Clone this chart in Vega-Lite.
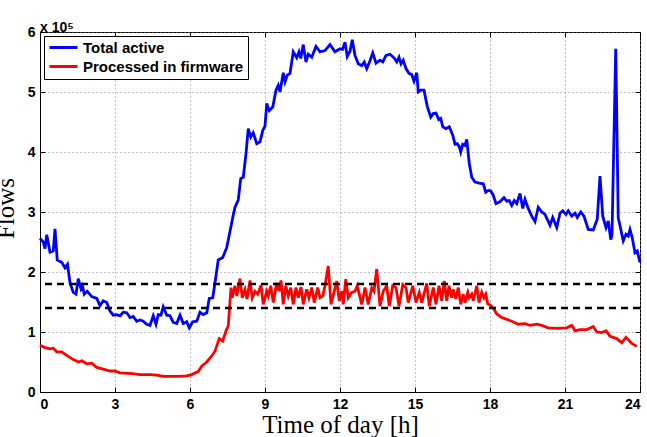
{
  "$schema": "https://vega.github.io/schema/vega-lite/v6.json",
  "width": 600,
  "height": 360,
  "autosize": "none",
  "padding": {"left": 40, "top": 32, "right": 7, "bottom": 45},
  "background": "white",
  "title": {"text": "x 10⁵", "anchor": "start", "frame": "group", "font": "Liberation Sans", "fontSize": 14, "fontWeight": "bold", "color": "black", "offset": 5, "dy": 15},
  "config": {
    "view": {"stroke": "black", "strokeWidth": 1},
    "axis": {
      "domainColor": "black", "tickColor": "black", "tickSize": -5, "labelPadding": 10,
      "labelFont": "Liberation Sans", "labelFontWeight": "bold", "labelFontSize": 14, "labelColor": "black",
      "gridDash": [1, 3], "gridColor": "#888888", "gridWidth": 1,
      "titleFont": "Liberation Serif", "titleFontWeight": "normal", "titleFontSize": 25, "titleColor": "black"
    },
    "legend": {
      "orient": "top-left", "offset": 4, "strokeColor": "black", "fillColor": "white", "padding": 4,
      "symbolType": "M-1,0L1,0", "symbolSize": 784, "symbolStrokeWidth": 3, "clipHeight": 15,
      "labelFont": "Liberation Sans", "labelFontWeight": "bold", "labelFontSize": 15, "labelColor": "black",
      "labelOffset": 4, "labelLimit": 400, "rowPadding": 3, "title": null
    }
  },
  "datasets": {
    "blue": [
      {"h":0,"v":2.56,"s":"Total active"},{"h":0.13,"v":2.5,"s":"Total active"},{"h":0.2,"v":2.39,"s":"Total active"},{"h":0.27,"v":2.62,"s":"Total active"},{"h":0.4,"v":2.33,"s":"Total active"},{"h":0.53,"v":2.35,"s":"Total active"},{"h":0.6,"v":2.72,"s":"Total active"},{"h":0.69,"v":2.2,"s":"Total active"},{"h":0.87,"v":2.16,"s":"Total active"},{"h":1.0,"v":2.07,"s":"Total active"},{"h":1.1,"v":2.13,"s":"Total active"},{"h":1.2,"v":1.82,"s":"Total active"},{"h":1.33,"v":1.66,"s":"Total active"},{"h":1.44,"v":1.63,"s":"Total active"},{"h":1.53,"v":1.89,"s":"Total active"},{"h":1.64,"v":1.72,"s":"Total active"},{"h":1.7,"v":1.77,"s":"Total active"},{"h":1.77,"v":1.63,"s":"Total active"},{"h":1.89,"v":1.68,"s":"Total active"},{"h":2.07,"v":1.59,"s":"Total active"},{"h":2.27,"v":1.56,"s":"Total active"},{"h":2.4,"v":1.44,"s":"Total active"},{"h":2.53,"v":1.52,"s":"Total active"},{"h":2.67,"v":1.49,"s":"Total active"},{"h":2.8,"v":1.35,"s":"Total active"},{"h":2.93,"v":1.28,"s":"Total active"},{"h":3.07,"v":1.29,"s":"Total active"},{"h":3.2,"v":1.27,"s":"Total active"},{"h":3.33,"v":1.33,"s":"Total active"},{"h":3.47,"v":1.32,"s":"Total active"},{"h":3.6,"v":1.24,"s":"Total active"},{"h":3.73,"v":1.26,"s":"Total active"},{"h":3.87,"v":1.18,"s":"Total active"},{"h":4.0,"v":1.2,"s":"Total active"},{"h":4.13,"v":1.18,"s":"Total active"},{"h":4.27,"v":1.13,"s":"Total active"},{"h":4.4,"v":1.11,"s":"Total active"},{"h":4.53,"v":1.27,"s":"Total active"},{"h":4.64,"v":1.13,"s":"Total active"},{"h":4.73,"v":1.29,"s":"Total active"},{"h":4.84,"v":1.28,"s":"Total active"},{"h":4.93,"v":1.42,"s":"Total active"},{"h":5.07,"v":1.28,"s":"Total active"},{"h":5.2,"v":1.27,"s":"Total active"},{"h":5.33,"v":1.16,"s":"Total active"},{"h":5.47,"v":1.14,"s":"Total active"},{"h":5.6,"v":1.28,"s":"Total active"},{"h":5.73,"v":1.14,"s":"Total active"},{"h":5.87,"v":1.17,"s":"Total active"},{"h":5.97,"v":1.07,"s":"Total active"},{"h":6.11,"v":1.17,"s":"Total active"},{"h":6.27,"v":1.18,"s":"Total active"},{"h":6.4,"v":1.33,"s":"Total active"},{"h":6.53,"v":1.29,"s":"Total active"},{"h":6.67,"v":1.32,"s":"Total active"},{"h":6.77,"v":1.56,"s":"Total active"},{"h":6.91,"v":1.57,"s":"Total active"},{"h":7.0,"v":1.82,"s":"Total active"},{"h":7.13,"v":2.2,"s":"Total active"},{"h":7.31,"v":2.24,"s":"Total active"},{"h":7.47,"v":2.41,"s":"Total active"},{"h":7.6,"v":2.68,"s":"Total active"},{"h":7.73,"v":2.95,"s":"Total active"},{"h":7.8,"v":3.08,"s":"Total active"},{"h":7.93,"v":3.2,"s":"Total active"},{"h":8.03,"v":3.56,"s":"Total active"},{"h":8.13,"v":3.58,"s":"Total active"},{"h":8.24,"v":3.97,"s":"Total active"},{"h":8.33,"v":4.39,"s":"Total active"},{"h":8.43,"v":4.25,"s":"Total active"},{"h":8.53,"v":4.32,"s":"Total active"},{"h":8.67,"v":4.14,"s":"Total active"},{"h":8.8,"v":4.17,"s":"Total active"},{"h":8.91,"v":4.36,"s":"Total active"},{"h":9.0,"v":4.43,"s":"Total active"},{"h":9.07,"v":4.81,"s":"Total active"},{"h":9.17,"v":4.69,"s":"Total active"},{"h":9.31,"v":4.75,"s":"Total active"},{"h":9.44,"v":5.03,"s":"Total active"},{"h":9.53,"v":5.11,"s":"Total active"},{"h":9.6,"v":5.0,"s":"Total active"},{"h":9.73,"v":5.32,"s":"Total active"},{"h":9.8,"v":5.17,"s":"Total active"},{"h":9.89,"v":5.28,"s":"Total active"},{"h":10.0,"v":5.31,"s":"Total active"},{"h":10.13,"v":5.67,"s":"Total active"},{"h":10.27,"v":5.57,"s":"Total active"},{"h":10.36,"v":5.67,"s":"Total active"},{"h":10.43,"v":5.56,"s":"Total active"},{"h":10.53,"v":5.79,"s":"Total active"},{"h":10.64,"v":5.5,"s":"Total active"},{"h":10.73,"v":5.63,"s":"Total active"},{"h":10.87,"v":5.58,"s":"Total active"},{"h":11.04,"v":5.76,"s":"Total active"},{"h":11.2,"v":5.67,"s":"Total active"},{"h":11.4,"v":5.69,"s":"Total active"},{"h":11.6,"v":5.79,"s":"Total active"},{"h":11.8,"v":5.67,"s":"Total active"},{"h":12.0,"v":5.72,"s":"Total active"},{"h":12.1,"v":5.71,"s":"Total active"},{"h":12.2,"v":5.83,"s":"Total active"},{"h":12.29,"v":5.59,"s":"Total active"},{"h":12.4,"v":5.68,"s":"Total active"},{"h":12.49,"v":5.87,"s":"Total active"},{"h":12.6,"v":5.61,"s":"Total active"},{"h":12.73,"v":5.47,"s":"Total active"},{"h":12.87,"v":5.44,"s":"Total active"},{"h":12.97,"v":5.5,"s":"Total active"},{"h":13.07,"v":5.39,"s":"Total active"},{"h":13.2,"v":5.52,"s":"Total active"},{"h":13.31,"v":5.65,"s":"Total active"},{"h":13.44,"v":5.48,"s":"Total active"},{"h":13.6,"v":5.53,"s":"Total active"},{"h":13.71,"v":5.5,"s":"Total active"},{"h":13.84,"v":5.61,"s":"Total active"},{"h":14.0,"v":5.63,"s":"Total active"},{"h":14.16,"v":5.57,"s":"Total active"},{"h":14.27,"v":5.5,"s":"Total active"},{"h":14.36,"v":5.58,"s":"Total active"},{"h":14.44,"v":5.47,"s":"Total active"},{"h":14.53,"v":5.53,"s":"Total active"},{"h":14.64,"v":5.39,"s":"Total active"},{"h":14.76,"v":5.31,"s":"Total active"},{"h":14.87,"v":5.29,"s":"Total active"},{"h":14.96,"v":5.18,"s":"Total active"},{"h":15.07,"v":5.32,"s":"Total active"},{"h":15.13,"v":5.0,"s":"Total active"},{"h":15.23,"v":5.03,"s":"Total active"},{"h":15.36,"v":5.03,"s":"Total active"},{"h":15.49,"v":4.76,"s":"Total active"},{"h":15.63,"v":4.58,"s":"Total active"},{"h":15.73,"v":4.64,"s":"Total active"},{"h":15.84,"v":4.65,"s":"Total active"},{"h":15.95,"v":4.54,"s":"Total active"},{"h":16.03,"v":4.56,"s":"Total active"},{"h":16.11,"v":4.42,"s":"Total active"},{"h":16.24,"v":4.39,"s":"Total active"},{"h":16.37,"v":4.42,"s":"Total active"},{"h":16.51,"v":4.28,"s":"Total active"},{"h":16.6,"v":4.13,"s":"Total active"},{"h":16.69,"v":4.14,"s":"Total active"},{"h":16.77,"v":4.09,"s":"Total active"},{"h":16.83,"v":4.0,"s":"Total active"},{"h":16.91,"v":4.13,"s":"Total active"},{"h":17.0,"v":4.11,"s":"Total active"},{"h":17.07,"v":4.21,"s":"Total active"},{"h":17.17,"v":3.81,"s":"Total active"},{"h":17.27,"v":3.58,"s":"Total active"},{"h":17.4,"v":3.5,"s":"Total active"},{"h":17.57,"v":3.48,"s":"Total active"},{"h":17.73,"v":3.47,"s":"Total active"},{"h":17.83,"v":3.33,"s":"Total active"},{"h":17.93,"v":3.36,"s":"Total active"},{"h":18.03,"v":3.35,"s":"Total active"},{"h":18.13,"v":3.28,"s":"Total active"},{"h":18.24,"v":3.14,"s":"Total active"},{"h":18.4,"v":3.17,"s":"Total active"},{"h":18.56,"v":3.24,"s":"Total active"},{"h":18.67,"v":3.18,"s":"Total active"},{"h":18.77,"v":3.19,"s":"Total active"},{"h":18.87,"v":3.11,"s":"Total active"},{"h":18.97,"v":3.19,"s":"Total active"},{"h":19.07,"v":3.14,"s":"Total active"},{"h":19.2,"v":3.31,"s":"Total active"},{"h":19.31,"v":3.06,"s":"Total active"},{"h":19.4,"v":3.21,"s":"Total active"},{"h":19.53,"v":3.06,"s":"Total active"},{"h":19.67,"v":2.93,"s":"Total active"},{"h":19.8,"v":2.84,"s":"Total active"},{"h":19.93,"v":3.08,"s":"Total active"},{"h":20.07,"v":3.0,"s":"Total active"},{"h":20.2,"v":2.96,"s":"Total active"},{"h":20.4,"v":2.78,"s":"Total active"},{"h":20.51,"v":2.91,"s":"Total active"},{"h":20.67,"v":2.74,"s":"Total active"},{"h":20.8,"v":2.98,"s":"Total active"},{"h":20.91,"v":3.02,"s":"Total active"},{"h":21.04,"v":2.96,"s":"Total active"},{"h":21.13,"v":3.02,"s":"Total active"},{"h":21.27,"v":2.93,"s":"Total active"},{"h":21.4,"v":2.98,"s":"Total active"},{"h":21.49,"v":2.91,"s":"Total active"},{"h":21.63,"v":3.0,"s":"Total active"},{"h":21.76,"v":2.93,"s":"Total active"},{"h":21.93,"v":2.71,"s":"Total active"},{"h":22.13,"v":2.7,"s":"Total active"},{"h":22.29,"v":2.88,"s":"Total active"},{"h":22.4,"v":3.6,"s":"Total active"},{"h":22.51,"v":2.93,"s":"Total active"},{"h":22.64,"v":2.74,"s":"Total active"},{"h":22.73,"v":2.85,"s":"Total active"},{"h":22.83,"v":2.54,"s":"Total active"},{"h":22.88,"v":2.62,"s":"Total active"},{"h":23.03,"v":5.72,"s":"Total active"},{"h":23.13,"v":2.9,"s":"Total active"},{"h":23.2,"v":2.77,"s":"Total active"},{"h":23.33,"v":2.52,"s":"Total active"},{"h":23.44,"v":2.63,"s":"Total active"},{"h":23.53,"v":2.6,"s":"Total active"},{"h":23.6,"v":2.71,"s":"Total active"},{"h":23.69,"v":2.57,"s":"Total active"},{"h":23.8,"v":2.32,"s":"Total active"},{"h":23.89,"v":2.35,"s":"Total active"},{"h":24.0,"v":2.16,"s":"Total active"}
    ],
    "red": [
      {"h":0,"v":0.78,"s":"Processed in firmware"},{"h":0.2,"v":0.74,"s":"Processed in firmware"},{"h":0.4,"v":0.72,"s":"Processed in firmware"},{"h":0.53,"v":0.73,"s":"Processed in firmware"},{"h":0.67,"v":0.67,"s":"Processed in firmware"},{"h":0.87,"v":0.67,"s":"Processed in firmware"},{"h":1.07,"v":0.61,"s":"Processed in firmware"},{"h":1.33,"v":0.54,"s":"Processed in firmware"},{"h":1.53,"v":0.5,"s":"Processed in firmware"},{"h":1.67,"v":0.52,"s":"Processed in firmware"},{"h":1.87,"v":0.47,"s":"Processed in firmware"},{"h":2.07,"v":0.48,"s":"Processed in firmware"},{"h":2.27,"v":0.41,"s":"Processed in firmware"},{"h":2.53,"v":0.38,"s":"Processed in firmware"},{"h":2.8,"v":0.35,"s":"Processed in firmware"},{"h":3.0,"v":0.35,"s":"Processed in firmware"},{"h":3.2,"v":0.32,"s":"Processed in firmware"},{"h":3.6,"v":0.31,"s":"Processed in firmware"},{"h":4.0,"v":0.29,"s":"Processed in firmware"},{"h":4.4,"v":0.29,"s":"Processed in firmware"},{"h":4.67,"v":0.28,"s":"Processed in firmware"},{"h":4.93,"v":0.26,"s":"Processed in firmware"},{"h":5.2,"v":0.26,"s":"Processed in firmware"},{"h":5.6,"v":0.26,"s":"Processed in firmware"},{"h":5.87,"v":0.27,"s":"Processed in firmware"},{"h":6.07,"v":0.29,"s":"Processed in firmware"},{"h":6.33,"v":0.34,"s":"Processed in firmware"},{"h":6.47,"v":0.43,"s":"Processed in firmware"},{"h":6.67,"v":0.5,"s":"Processed in firmware"},{"h":6.87,"v":0.6,"s":"Processed in firmware"},{"h":7.0,"v":0.68,"s":"Processed in firmware"},{"h":7.17,"v":0.89,"s":"Processed in firmware"},{"h":7.31,"v":0.85,"s":"Processed in firmware"},{"h":7.44,"v":1.02,"s":"Processed in firmware"},{"h":7.53,"v":1.1,"s":"Processed in firmware"},
      {"h":7.64,"v":1.74,"s":"Processed in firmware"},{"h":7.69,"v":1.57,"s":"Processed in firmware"},{"h":7.8,"v":1.77,"s":"Processed in firmware"},{"h":7.87,"v":1.6,"s":"Processed in firmware"},{"h":8.0,"v":1.89,"s":"Processed in firmware"},{"h":8.09,"v":1.57,"s":"Processed in firmware"},{"h":8.2,"v":1.71,"s":"Processed in firmware"},{"h":8.28,"v":1.55,"s":"Processed in firmware"},{"h":8.4,"v":1.86,"s":"Processed in firmware"},{"h":8.49,"v":1.57,"s":"Processed in firmware"},{"h":8.6,"v":1.68,"s":"Processed in firmware"},{"h":8.71,"v":1.63,"s":"Processed in firmware"},{"h":8.84,"v":1.78,"s":"Processed in firmware"},{"h":8.93,"v":1.46,"s":"Processed in firmware"},{"h":9.07,"v":1.68,"s":"Processed in firmware"},{"h":9.13,"v":1.6,"s":"Processed in firmware"},{"h":9.23,"v":1.77,"s":"Processed in firmware"},{"h":9.33,"v":1.49,"s":"Processed in firmware"},{"h":9.47,"v":1.82,"s":"Processed in firmware"},{"h":9.56,"v":1.68,"s":"Processed in firmware"},{"h":9.64,"v":1.86,"s":"Processed in firmware"},{"h":9.73,"v":1.46,"s":"Processed in firmware"},{"h":9.83,"v":1.77,"s":"Processed in firmware"},{"h":9.93,"v":1.6,"s":"Processed in firmware"},{"h":10.03,"v":1.74,"s":"Processed in firmware"},{"h":10.13,"v":1.46,"s":"Processed in firmware"},{"h":10.24,"v":1.74,"s":"Processed in firmware"},{"h":10.33,"v":1.57,"s":"Processed in firmware"},{"h":10.44,"v":1.75,"s":"Processed in firmware"},{"h":10.53,"v":1.46,"s":"Processed in firmware"},{"h":10.67,"v":1.71,"s":"Processed in firmware"},{"h":10.76,"v":1.57,"s":"Processed in firmware"},{"h":10.87,"v":1.74,"s":"Processed in firmware"},{"h":10.97,"v":1.49,"s":"Processed in firmware"},{"h":11.11,"v":1.74,"s":"Processed in firmware"},{"h":11.2,"v":1.57,"s":"Processed in firmware"},{"h":11.31,"v":1.6,"s":"Processed in firmware"},{"h":11.4,"v":1.77,"s":"Processed in firmware"},{"h":11.53,"v":2.1,"s":"Processed in firmware"},{"h":11.64,"v":1.46,"s":"Processed in firmware"},
      {"h":11.87,"v":1.85,"s":"Processed in firmware"},{"h":11.97,"v":1.52,"s":"Processed in firmware"},{"h":12.07,"v":1.68,"s":"Processed in firmware"},{"h":12.13,"v":1.46,"s":"Processed in firmware"},{"h":12.23,"v":1.88,"s":"Processed in firmware"},{"h":12.33,"v":1.57,"s":"Processed in firmware"},{"h":12.47,"v":1.66,"s":"Processed in firmware"},{"h":12.6,"v":1.68,"s":"Processed in firmware"},{"h":12.69,"v":1.77,"s":"Processed in firmware"},{"h":12.87,"v":1.46,"s":"Processed in firmware"},{"h":13.0,"v":1.74,"s":"Processed in firmware"},{"h":13.13,"v":1.46,"s":"Processed in firmware"},{"h":13.27,"v":1.74,"s":"Processed in firmware"},{"h":13.36,"v":1.68,"s":"Processed in firmware"},{"h":13.47,"v":2.05,"s":"Processed in firmware"},{"h":13.6,"v":1.43,"s":"Processed in firmware"},{"h":13.73,"v":1.68,"s":"Processed in firmware"},{"h":13.87,"v":1.77,"s":"Processed in firmware"},{"h":13.97,"v":1.43,"s":"Processed in firmware"},{"h":14.11,"v":1.77,"s":"Processed in firmware"},{"h":14.24,"v":1.74,"s":"Processed in firmware"},{"h":14.36,"v":1.43,"s":"Processed in firmware"},{"h":14.51,"v":1.79,"s":"Processed in firmware"},{"h":14.64,"v":1.74,"s":"Processed in firmware"},{"h":14.73,"v":1.49,"s":"Processed in firmware"},{"h":14.91,"v":1.77,"s":"Processed in firmware"},{"h":15.04,"v":1.49,"s":"Processed in firmware"},{"h":15.17,"v":1.66,"s":"Processed in firmware"},{"h":15.27,"v":1.49,"s":"Processed in firmware"},{"h":15.47,"v":1.81,"s":"Processed in firmware"},{"h":15.57,"v":1.43,"s":"Processed in firmware"},{"h":15.73,"v":1.74,"s":"Processed in firmware"},{"h":15.84,"v":1.46,"s":"Processed in firmware"},{"h":15.96,"v":1.77,"s":"Processed in firmware"},{"h":16.07,"v":1.52,"s":"Processed in firmware"},{"h":16.17,"v":1.85,"s":"Processed in firmware"},{"h":16.27,"v":1.52,"s":"Processed in firmware"},{"h":16.36,"v":1.77,"s":"Processed in firmware"},{"h":16.47,"v":1.57,"s":"Processed in firmware"},{"h":16.53,"v":1.71,"s":"Processed in firmware"},{"h":16.63,"v":1.55,"s":"Processed in firmware"},{"h":16.73,"v":1.74,"s":"Processed in firmware"},{"h":16.83,"v":1.46,"s":"Processed in firmware"},{"h":16.93,"v":1.63,"s":"Processed in firmware"},{"h":17.0,"v":1.49,"s":"Processed in firmware"},{"h":17.11,"v":1.66,"s":"Processed in firmware"},{"h":17.17,"v":1.57,"s":"Processed in firmware"},{"h":17.27,"v":1.63,"s":"Processed in firmware"},{"h":17.33,"v":1.52,"s":"Processed in firmware"},{"h":17.47,"v":1.77,"s":"Processed in firmware"},{"h":17.56,"v":1.49,"s":"Processed in firmware"},{"h":17.67,"v":1.66,"s":"Processed in firmware"},{"h":17.76,"v":1.57,"s":"Processed in firmware"},{"h":17.83,"v":1.63,"s":"Processed in firmware"},{"h":17.91,"v":1.47,"s":"Processed in firmware"},{"h":18.0,"v":1.45,"s":"Processed in firmware"},{"h":18.13,"v":1.4,"s":"Processed in firmware"},{"h":18.27,"v":1.3,"s":"Processed in firmware"},{"h":18.47,"v":1.24,"s":"Processed in firmware"},{"h":18.67,"v":1.21,"s":"Processed in firmware"},{"h":18.87,"v":1.18,"s":"Processed in firmware"},{"h":19.13,"v":1.13,"s":"Processed in firmware"},{"h":19.4,"v":1.14,"s":"Processed in firmware"},{"h":19.6,"v":1.11,"s":"Processed in firmware"},{"h":19.87,"v":1.13,"s":"Processed in firmware"},{"h":20.07,"v":1.11,"s":"Processed in firmware"},{"h":20.33,"v":1.07,"s":"Processed in firmware"},{"h":20.67,"v":1.06,"s":"Processed in firmware"},{"h":21.07,"v":1.07,"s":"Processed in firmware"},{"h":21.27,"v":1.11,"s":"Processed in firmware"},{"h":21.4,"v":1.02,"s":"Processed in firmware"},{"h":21.6,"v":1.04,"s":"Processed in firmware"},{"h":21.87,"v":1.04,"s":"Processed in firmware"},{"h":22.13,"v":1.09,"s":"Processed in firmware"},{"h":22.27,"v":1.0,"s":"Processed in firmware"},{"h":22.47,"v":0.99,"s":"Processed in firmware"},{"h":22.64,"v":1.02,"s":"Processed in firmware"},{"h":22.8,"v":0.93,"s":"Processed in firmware"},{"h":23.07,"v":0.89,"s":"Processed in firmware"},{"h":23.27,"v":0.82,"s":"Processed in firmware"},{"h":23.44,"v":0.91,"s":"Processed in firmware"},{"h":23.67,"v":0.81,"s":"Processed in firmware"},{"h":23.87,"v":0.76,"s":"Processed in firmware"}
    ],
    "thresholds": [{"y": 1.8}, {"y": 1.4}]
  },
  "resolve": {"axis": {"x": "independent", "y": "independent"}},
  "layer": [
    {
      "data": {"name": "blue"},
      "mark": {"type": "line", "strokeWidth": 2.8, "strokeJoin": "miter"},
      "encoding": {
        "x": {"field": "h", "type": "quantitative", "scale": {"domain": [0, 24], "nice": false},
              "axis": {"orient": "bottom", "grid": true, "values": [0, 3, 6, 9, 12, 15, 18, 21, 24], "title": "Time of day [h]", "titleY": 40, "titleBaseline": "alphabetic"}},
        "y": {"field": "v", "type": "quantitative", "scale": {"domain": [0, 6], "nice": false},
              "axis": {"orient": "left", "grid": true, "values": [0, 1, 2, 3, 4, 5, 6], "format": "d", "title": "Flows", "titleX": -27, "titleY": 176, "titleBaseline": "alphabetic"}},
        "color": {"field": "s", "type": "nominal",
                  "scale": {"domain": ["Total active", "Processed in firmware"], "range": ["#0000ff", "#ff0000"]}},
        "order": {"field": "h", "type": "quantitative"}
      }
    },
    {
      "data": {"name": "red"},
      "mark": {"type": "line", "strokeWidth": 2.8, "strokeJoin": "miter"},
      "encoding": {
        "x": {"field": "h", "type": "quantitative",
              "axis": {"orient": "top", "grid": false, "labels": false, "title": null, "domain": false, "values": [0, 3, 6, 9, 12, 15, 18, 21, 24]}},
        "y": {"field": "v", "type": "quantitative",
              "axis": {"orient": "right", "grid": false, "labels": false, "title": null, "domain": false, "values": [0, 1, 2, 3, 4, 5, 6]}},
        "color": {"field": "s", "type": "nominal"},
        "order": {"field": "h", "type": "quantitative"}
      }
    },
    {
      "data": {"name": "thresholds"},
      "mark": {"type": "rule", "color": "black", "strokeWidth": 2.5, "strokeDash": [7, 5]},
      "encoding": {"y": {"field": "y", "type": "quantitative", "axis": null}}
    }
  ]
}
